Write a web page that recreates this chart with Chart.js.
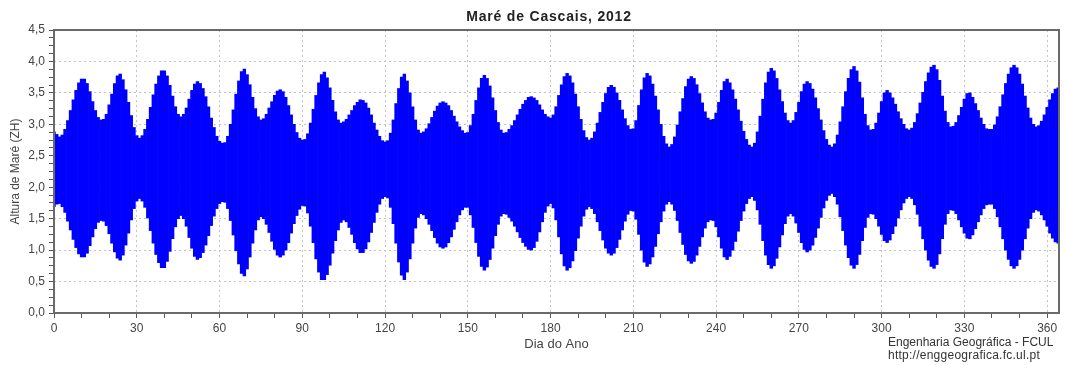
<!DOCTYPE html>
<html><head><meta charset="utf-8">
<script src="https://cdn.jsdelivr.net/npm/chart.js@4/dist/chart.umd.min.js"></script>
<style>
html,body{margin:0;padding:0;background:#fff;}
#wrap{position:relative;width:1065px;height:365px;overflow:hidden;background:#fff;}
#c{position:absolute;left:0;top:0;}
.t{position:absolute;font-family:'Liberation Sans',Arial,sans-serif;white-space:nowrap;}
</style></head><body>
<div id="wrap">
<canvas id="c" width="1065" height="365"></canvas>
<div class="t" style="left:399px;width:300px;top:8px;text-align:center;font-weight:bold;font-size:14px;line-height:16px;letter-spacing:0.8px;color:#222">Maré de Cascais, 2012</div>
<div class="t" style="left:888px;top:335px;font-size:12px;line-height:14px;letter-spacing:0px;color:#333">Engenharia Geográfica - FCUL</div>
<div class="t" style="left:888px;top:348px;font-size:12px;line-height:14px;letter-spacing:0.25px;color:#333">http://enggeografica.fc.ul.pt</div>
</div>
<script>
// Daily high-water envelope (m, ZH), day 0..364
const highTide = [
2.88,2.84,2.80,2.83,2.92,3.06,3.22,3.39,3.54,3.66,
3.72,3.72,3.65,3.52,3.36,3.22,3.11,3.07,3.08,3.16,
3.31,3.48,3.65,3.77,3.80,3.71,3.55,3.35,3.14,2.95,
2.82,2.78,2.82,2.92,3.08,3.27,3.47,3.64,3.77,3.85,
3.85,3.77,3.62,3.45,3.28,3.16,3.12,3.16,3.26,3.40,
3.54,3.64,3.68,3.65,3.57,3.44,3.28,3.10,2.95,2.81,
2.73,2.70,2.71,2.81,3.00,3.23,3.48,3.69,3.84,3.88,
3.79,3.63,3.43,3.25,3.12,3.07,3.09,3.16,3.26,3.36,
3.46,3.53,3.55,3.52,3.43,3.30,3.15,3.00,2.87,2.78,
2.75,2.76,2.85,3.02,3.24,3.46,3.66,3.79,3.83,3.74,
3.58,3.38,3.20,3.07,3.02,3.04,3.08,3.15,3.22,3.30,
3.35,3.39,3.38,3.34,3.26,3.15,3.02,2.91,2.81,2.74,
2.72,2.74,2.86,3.07,3.33,3.57,3.75,3.80,3.69,3.50,
3.28,3.07,2.91,2.86,2.88,2.93,3.01,3.11,3.21,3.29,
3.34,3.36,3.34,3.30,3.22,3.13,3.04,2.96,2.90,2.86,
2.87,2.98,3.16,3.38,3.58,3.73,3.78,3.73,3.61,3.42,
3.22,3.03,2.91,2.86,2.87,2.92,2.98,3.06,3.15,3.24,
3.32,3.38,3.43,3.44,3.42,3.38,3.31,3.23,3.16,3.12,
3.10,3.15,3.28,3.46,3.63,3.76,3.81,3.77,3.66,3.48,
3.28,3.08,2.90,2.79,2.75,2.78,2.88,3.02,3.19,3.35,
3.49,3.59,3.62,3.59,3.50,3.38,3.23,3.09,2.98,2.92,
2.93,3.06,3.30,3.55,3.74,3.81,3.77,3.64,3.45,3.23,
3.00,2.81,2.69,2.64,2.68,2.80,2.99,3.20,3.41,3.60,
3.72,3.76,3.73,3.63,3.49,3.34,3.20,3.10,3.07,3.08,
3.18,3.35,3.54,3.68,3.72,3.66,3.55,3.40,3.23,3.05,
2.89,2.76,2.67,2.64,2.70,2.88,3.13,3.40,3.66,3.83,
3.89,3.85,3.73,3.55,3.36,3.18,3.06,3.02,3.06,3.19,
3.35,3.52,3.64,3.68,3.65,3.56,3.42,3.25,3.07,2.90,
2.76,2.67,2.64,2.69,2.83,3.04,3.28,3.52,3.73,3.87,
3.92,3.85,3.67,3.42,3.16,2.98,2.91,2.92,3.02,3.18,
3.36,3.50,3.54,3.50,3.42,3.32,3.20,3.09,3.00,2.93,
2.91,2.94,3.03,3.17,3.34,3.51,3.68,3.82,3.91,3.94,
3.87,3.70,3.45,3.21,3.03,2.96,2.97,3.03,3.14,3.27,
3.40,3.49,3.50,3.43,3.33,3.22,3.10,3.00,2.93,2.92,
2.92,2.99,3.12,3.28,3.47,3.65,3.80,3.90,3.94,3.90,
3.80,3.64,3.45,3.26,3.10,3.00,2.96,2.98,3.05,3.15,
3.27,3.39,3.49,3.56,3.58
];
// Daily low-water envelope (m, ZH), day 0..364
const lowTide = [
1.69,1.73,1.74,1.69,1.60,1.46,1.32,1.17,1.04,0.94,
0.89,0.89,0.95,1.07,1.21,1.34,1.44,1.47,1.46,1.39,
1.26,1.11,0.97,0.87,0.84,0.92,1.08,1.27,1.48,1.66,
1.78,1.82,1.78,1.68,1.51,1.31,1.11,0.93,0.80,0.72,
0.72,0.82,0.98,1.18,1.37,1.50,1.55,1.50,1.38,1.20,
1.03,0.90,0.85,0.88,0.96,1.08,1.23,1.39,1.54,1.66,
1.74,1.77,1.76,1.66,1.47,1.24,0.99,0.78,0.63,0.59,
0.70,0.89,1.11,1.32,1.48,1.53,1.50,1.41,1.28,1.14,
1.01,0.92,0.89,0.92,1.00,1.12,1.27,1.42,1.55,1.65,
1.71,1.70,1.59,1.38,1.12,0.86,0.65,0.53,0.53,0.61,
0.76,0.95,1.15,1.32,1.44,1.48,1.45,1.36,1.25,1.12,
1.02,0.96,0.96,1.02,1.13,1.28,1.44,1.60,1.73,1.82,
1.85,1.83,1.68,1.42,1.11,0.81,0.60,0.53,0.65,0.86,
1.11,1.35,1.52,1.58,1.56,1.50,1.41,1.31,1.20,1.11,
1.05,1.03,1.05,1.12,1.21,1.33,1.45,1.56,1.64,1.68,
1.68,1.56,1.36,1.12,0.90,0.74,0.68,0.73,0.85,1.03,
1.23,1.41,1.54,1.58,1.57,1.52,1.46,1.38,1.29,1.20,
1.12,1.06,1.01,1.00,1.04,1.14,1.29,1.45,1.60,1.70,
1.74,1.67,1.48,1.21,0.94,0.75,0.68,0.72,0.83,0.99,
1.19,1.38,1.54,1.65,1.69,1.66,1.58,1.45,1.31,1.16,
1.03,0.95,0.92,0.95,1.04,1.17,1.32,1.46,1.57,1.63,
1.62,1.49,1.25,1.00,0.81,0.74,0.78,0.89,1.06,1.26,
1.45,1.62,1.73,1.77,1.73,1.63,1.47,1.28,1.09,0.93,
0.83,0.79,0.82,0.92,1.06,1.21,1.35,1.45,1.48,1.47,
1.37,1.21,1.03,0.89,0.85,0.90,1.00,1.14,1.30,1.47,
1.62,1.74,1.82,1.85,1.79,1.64,1.41,1.15,0.92,0.77,
0.71,0.75,0.87,1.05,1.24,1.42,1.54,1.58,1.54,1.43,
1.28,1.12,1.01,0.97,1.00,1.08,1.20,1.35,1.52,1.67,
1.79,1.87,1.90,1.85,1.73,1.53,1.31,1.08,0.88,0.76,
0.71,0.77,0.93,1.15,1.36,1.52,1.58,1.57,1.50,1.38,
1.25,1.15,1.12,1.16,1.26,1.38,1.51,1.64,1.75,1.82,
1.85,1.82,1.72,1.57,1.38,1.18,1.00,0.84,0.74,0.71,
0.77,0.94,1.18,1.41,1.58,1.64,1.63,1.58,1.48,1.37,
1.27,1.19,1.18,1.24,1.34,1.45,1.56,1.66,1.72,1.73,
1.73,1.66,1.53,1.37,1.18,1.00,0.85,0.75,0.71,0.75,
0.85,1.00,1.18,1.35,1.50,1.60,1.64,1.62,1.56,1.48,
1.38,1.27,1.19,1.13,1.11
];
const dayOfYear = highTide.map((_, i) => i);
const xLabelDays = [0, 30, 60, 90, 120, 150, 180, 210, 240, 270, 300, 330, 360];
const yLabelValues = [0, 0.5, 1, 1.5, 2, 2.5, 3, 3.5, 4, 4.5];

const tideData = dayOfYear.map((d, i) => ({x: d, y: [lowTide[i], highTide[i]]}));

const isMajorY = v => yLabelValues.some(m => Math.abs(m - v) < 1e-6);
const isMajorX = v => xLabelDays.some(m => Math.abs(m - v) < 1e-6);

const framePlugin = {
  id: 'frame',
  afterDraw(chart) {
    const {ctx, chartArea: a} = chart;
    ctx.save();
    ctx.strokeStyle = '#6a6a6a';
    ctx.lineWidth = 2;
    ctx.strokeRect(a.left, a.top, a.right - a.left, a.bottom - a.top);
    ctx.restore();
  }
};

const FONT = "'Liberation Sans', Arial, sans-serif";

new Chart(document.getElementById('c'), {
  type: 'bar',
  data: {
    datasets: [{
      label: 'Maré',
      data: tideData,
      backgroundColor: '#0000ff',
      borderWidth: 0,
      barPercentage: 1,
      categoryPercentage: 1,
      grouped: false
    }]
  },
  options: {
    responsive: false,
    animation: false,
    devicePixelRatio: 1,
    layout: {padding: {top: 30, right: 6, left: 0, bottom: 0}},
    plugins: {legend: {display: false}, tooltip: {enabled: false}, title: {display: false}},
    scales: {
      x: {
        type: 'linear',
        min: 0,
        max: 364.3,
        offset: false,
        afterFit: s => { s.height = 52; },
        grid: {
          offset: false,
          drawTicks: true,
          tickLength: 5,
          tickColor: '#555',
          tickWidth: 1,
          lineWidth: 1,
          color: ctx => isMajorX(ctx.tick ? ctx.tick.value : -1) ? '#c4c4c4' : 'rgba(0,0,0,0)'
        },
        border: {display: false, dash: [2, 3]},
        ticks: {
          stepSize: 10,
          includeBounds: false,
          autoSkip: false,
          maxRotation: 0,
          padding: 3,
          color: '#444',
          font: {family: FONT, size: 12},
          callback: v => isMajorX(v) ? String(Math.round(v)) : ''
        },
        title: {display: true, text: 'Dia do Ano', color: '#444', font: {family: FONT, size: 13}, padding: {top: 0, bottom: 13}}
      },
      y: {
        min: 0,
        max: 4.5,
        afterFit: s => { s.width = 54; },
        grid: {
          drawTicks: true,
          tickLength: 5,
          tickColor: '#555',
          tickWidth: 1,
          lineWidth: 1,
          color: ctx => isMajorY(ctx.tick ? ctx.tick.value : -1) ? '#c4c4c4' : 'rgba(0,0,0,0)'
        },
        border: {display: false, dash: [2, 3]},
        ticks: {
          stepSize: 0.125,
          includeBounds: false,
          autoSkip: false,
          padding: 4,
          color: '#444',
          font: {family: FONT, size: 12},
          callback: v => isMajorY(v) ? v.toFixed(1).replace('.', ',') : ''
        },
        title: {display: true, text: 'Altura de Maré (ZH)', color: '#444', font: {family: FONT, size: 12}, padding: {top: 8, bottom: 0}}
      }
    }
  },
  plugins: [framePlugin]
});
</script>
</body></html>
